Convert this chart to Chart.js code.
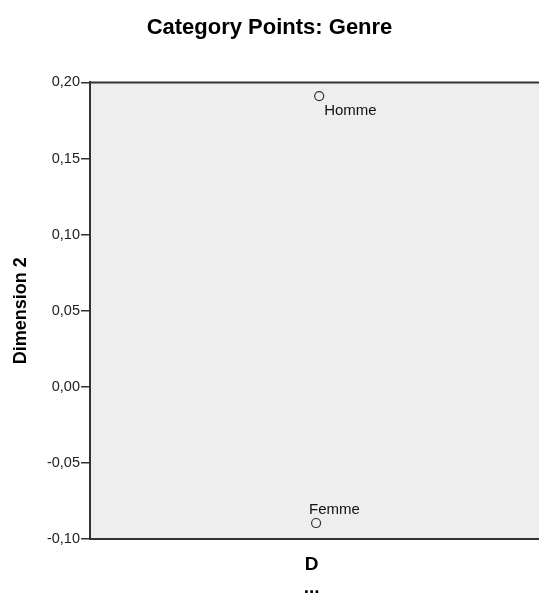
<!DOCTYPE html>
<html>
<head>
<meta charset="utf-8">
<script src="https://cdn.jsdelivr.net/npm/chart.js@4/dist/chart.umd.min.js"></script>
<style>
  html, body { margin: 0; padding: 0; background: #fff; }
  #wrap { width: 539px; height: 593px; }
</style>
</head>
<body>
<div id="wrap"><canvas id="chart"></canvas></div>
<script>
// Category points (object principal normalization)
const categories = ['Homme', 'Femme'];
const dim1 = [0.034, 0.02];
const dim2 = [0.191, -0.0895];
const yTicks = [-0.10, -0.05, 0.00, 0.05, 0.10, 0.15, 0.20];

const FONT = '"Liberation Sans", Arial, Helvetica, sans-serif';

// label placement relative to point (px)
const labelOffsets = {
    Homme: { dx: 5, dy: 15 },
    Femme: { dx: -7, dy: -13 }
};

// gray plot background (runs off the right edge like the original) + frame lines + point labels
const framePlugin = {
    id: 'frame',
    beforeDraw(chart) {
        const a = chart.chartArea;
        const ctx = chart.ctx;
        ctx.save();
        ctx.fillStyle = '#eeeeee';
        ctx.fillRect(a.left, a.top, chart.width - a.left, a.bottom - a.top);
        ctx.restore();
    },
    afterDraw(chart) {
        const a = chart.chartArea;
        const ctx = chart.ctx;
        ctx.save();
        ctx.strokeStyle = '#333';
        ctx.lineWidth = 2;
        ctx.beginPath();
        ctx.moveTo(a.left - 1, a.top);
        ctx.lineTo(chart.width, a.top);
        ctx.moveTo(a.left - 1, a.bottom);
        ctx.lineTo(chart.width, a.bottom);
        ctx.stroke();

        const meta = chart.getDatasetMeta(0);
        ctx.fillStyle = '#111';
        ctx.font = '15px ' + FONT;
        ctx.textAlign = 'left';
        ctx.textBaseline = 'middle';
        meta.data.forEach((pt, i) => {
            const off = labelOffsets[categories[i]] || { dx: 5, dy: 0 };
            ctx.fillText(categories[i], pt.x + off.dx, pt.y + off.dy);
        });
        ctx.restore();
    }
};

new Chart(document.getElementById('chart'), {
    type: 'scatter',
    data: {
        datasets: [{
            label: 'Genre',
            data: categories.map((c, i) => ({ x: dim1[i], y: dim2[i] })),
            pointStyle: 'circle',
            pointRadius: 4.5,
            pointHoverRadius: 4.5,
            borderColor: '#333',
            borderWidth: 1.2,
            backgroundColor: 'rgba(0,0,0,0)'
        }]
    },
    options: {
        responsive: true,
        maintainAspectRatio: false,
        animation: false,
        layout: { padding: { left: 0, right: 0, top: 0, bottom: 0 } },
        plugins: {
            legend: { display: false },
            tooltip: { enabled: false },
            title: {
                display: true,
                text: 'Category Points: Genre',
                color: '#000',
                font: { family: FONT, size: 22, weight: 'bold' },
                padding: { top: 15, bottom: 41 }
            }
        },
        scales: {
            x: {
                type: 'linear',
                min: -1,
                max: 1,
                ticks: { display: false },
                grid: { display: false },
                border: { display: true, color: '#333', width: 2 },
                title: {
                    display: true,
                    text: ['D', '...'],
                    color: '#000',
                    font: { family: FONT, size: 19, weight: 'bold', lineHeight: 1.2 },
                    padding: { top: 16, bottom: -6 }
                },
                afterFit(scale) { scale.height = 54; }
            },
            y: {
                type: 'linear',
                min: -0.10,
                max: 0.20,
                afterBuildTicks(scale) {
                    scale.ticks = yTicks.map(v => ({ value: v }));
                },
                ticks: {
                    color: '#222',
                    font: { family: FONT, size: 14.5 },
                    padding: 1,
                    callback: v => v.toFixed(2).replace('.', ',')
                },
                grid: {
                    drawOnChartArea: false,
                    drawTicks: true,
                    tickLength: 9,
                    color: '#333',
                    lineWidth: 1.5
                },
                border: { display: true, color: '#333', width: 2 },
                title: {
                    display: true,
                    text: 'Dimension 2',
                    color: '#000',
                    font: { family: FONT, size: 18, weight: 'bold' },
                    padding: { top: 10, bottom: 4 }
                },
                afterFit(scale) { scale.width = 90; }
            }
        }
    },
    plugins: [framePlugin]
});
</script>
</body>
</html>
